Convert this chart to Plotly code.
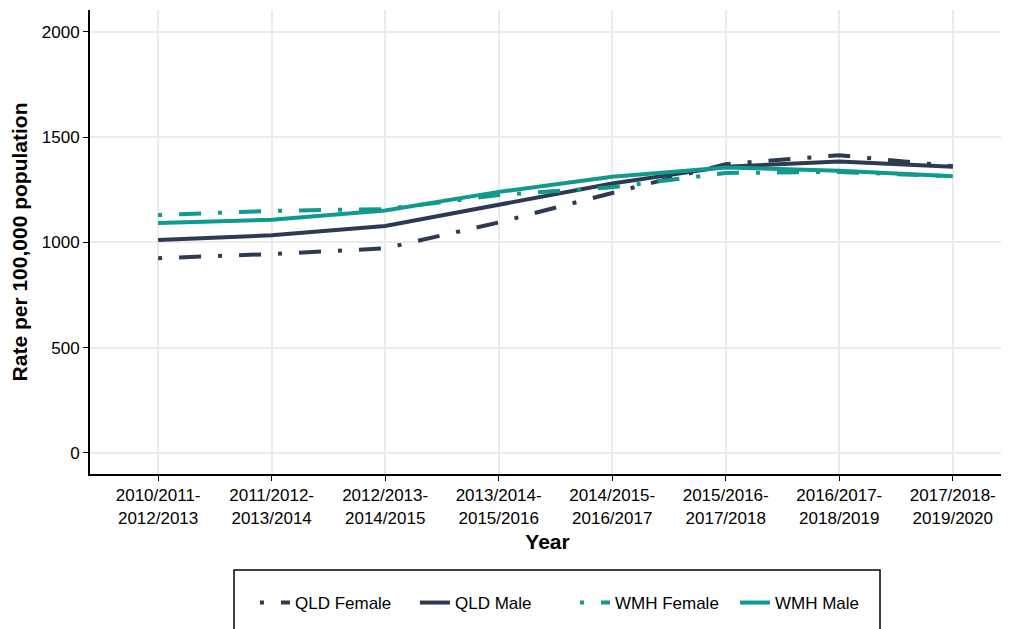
import plotly.graph_objects as go

years = ["2010/2011-<br>2012/2013", "2011/2012-<br>2013/2014", "2012/2013-<br>2014/2015",
         "2013/2014-<br>2015/2016", "2014/2015-<br>2016/2017", "2015/2016-<br>2017/2018",
         "2016/2017-<br>2018/2019", "2017/2018-<br>2019/2020"]
qld_female = [925, 945, 972, 1095, 1235, 1372, 1414, 1362]
qld_male = [1012, 1034, 1078, 1180, 1280, 1360, 1384, 1360]
wmh_female = [1130, 1150, 1158, 1225, 1262, 1330, 1335, 1314]
wmh_male = [1092, 1108, 1152, 1240, 1312, 1356, 1340, 1314]

navy = "#2E3A52"
teal = "#0E9A8D"
dashpat = "4px,17px,22px,17px"

fig = go.Figure()
series = [
    ("QLD Female", qld_female, navy, dashpat),
    ("QLD Male", qld_male, navy, "solid"),
    ("WMH Female", wmh_female, teal, dashpat),
    ("WMH Male", wmh_male, teal, "solid"),
]
for name, vals, col, dash in series:
    fig.add_trace(go.Scatter(x=list(range(len(years))), y=vals, mode="lines", name=name,
                             line=dict(color=col, width=4, dash=dash)))

fig.update_layout(
    width=1001, height=621,
    margin=dict(l=82, r=4, t=2, b=155),
    plot_bgcolor="white", paper_bgcolor="white",
    font=dict(family="Liberation Sans, Arial, sans-serif", size=17, color="black"),
    showlegend=True,
    legend=dict(orientation="h", x=0.530, xanchor="center", y=-0.278, yanchor="middle",
                borderwidth=0, bgcolor="rgba(0,0,0,0)", font=dict(size=17, color="black"),
                entrywidth=115, entrywidthmode="pixels", tracegroupgap=0),
    shapes=[dict(type="rect", xref="paper", yref="paper", x0=0.1574, x1=0.8634,
                 y0=-0.2069, y1=-0.40, line=dict(color="black", width=1.5),
                 fillcolor="rgba(0,0,0,0)", layer="above")],
)
fig.update_xaxes(
    tickmode="array", tickvals=list(range(len(years))), ticktext=years,
    range=[-0.6, 7.46], showgrid=True, gridcolor="#EBEBEB", gridwidth=1.5,
    showline=True, linecolor="black", linewidth=2, ticks="outside", ticklen=5,
    tickcolor="black", tickfont=dict(size=17, color="black"), zeroline=False,
    title=dict(text="<b>Year</b>", font=dict(size=21, color="black"), standoff=8),
)
fig.update_yaxes(
    range=[-100, 2104], tickvals=[0, 500, 1000, 1500, 2000], showgrid=True,
    gridcolor="#EBEBEB", gridwidth=1.5, showline=True, linecolor="black", linewidth=2,
    ticks="outside", ticklen=5, tickcolor="black", tickfont=dict(size=17, color="black"),
    zeroline=False,
    title=dict(text="<b>Rate per 100,000 population</b>", font=dict(size=21, color="black"), standoff=10),
)

fig.write_html("out.html")
